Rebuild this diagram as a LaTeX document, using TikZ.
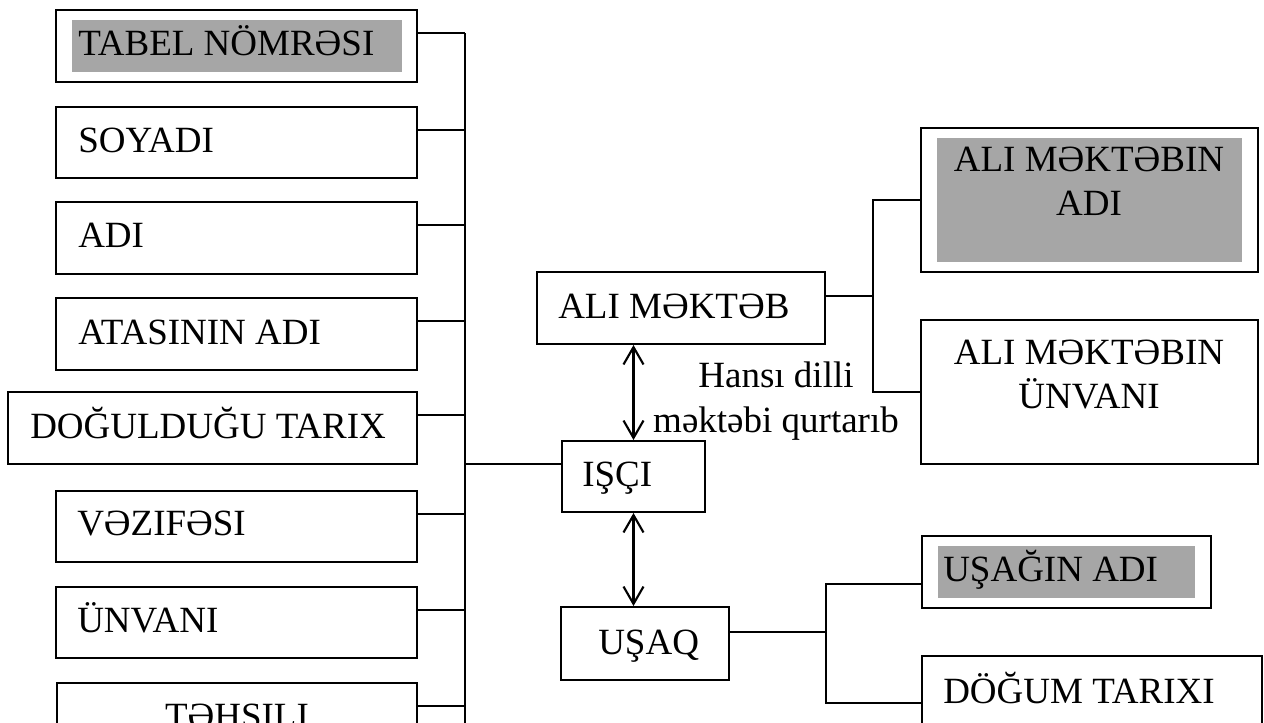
\documentclass[tikz,border=0pt]{standalone}
\usepackage{fontspec}
\setmainfont{Liberation Serif}
\usetikzlibrary{arrows.meta,fit}
\definecolor{keyshade}{RGB}{166,166,166}
\begin{document}
\begin{tikzpicture}[x=0.75pt,y=-0.75pt,
  box/.style={draw, line width=1.5pt, inner sep=0pt, rectangle},
  link/.style={line width=1.4pt},
  lbl/.style={font=\fontsize{27.75pt}{32.5pt}\selectfont, inner sep=0pt, anchor=base west},
  clbl/.style={font=\fontsize{27.75pt}{32.5pt}\selectfont, inner sep=0pt, anchor=base, align=center},
  dbl/.style={line width=1.6pt, {Straight Barb[length=13pt,width=15pt]}-{Straight Barb[length=13pt,width=15pt]}}]
\useasboundingbox (0,0) rectangle (1264,722);
\clip (0,0) rectangle (1264,722);
\fill[white] (0,0) rectangle (1264,722);

% attribute boxes of the employee
\fill[keyshade] (72,20) rectangle (402,72);
\node[box, fit={(56,10) (417,82)}] (tabel) {};
\node[box, fit={(56,107) (417,178)}] (soyadi) {};
\node[box, fit={(56,202) (417,274)}] (adi) {};
\node[box, fit={(56,298) (417,370)}] (atasi) {};
\node[box, fit={(8,392) (417,464)}] (dogul) {};
\node[box, fit={(56,491) (417,562)}] (vezife) {};
\node[box, fit={(56,587) (417,658)}] (unvan) {};
\node[box, fit={(57,683) (417,755)}] (tehsil) {};

\node[lbl] (t-tabel) at (78,55) {TABEL NÖMRƏSI};
\node[lbl] (t-soyadi) at (78,152) {SOYADI};
\node[lbl] (t-adi) at (78,247) {ADI};
\node[lbl] (t-atasi) at (78,344) {ATASININ ADI};
\node[lbl] (t-dogul) at (30,438) {DOĞULDUĞU TARIX};
\node[lbl] (t-vezife) at (77,535) {VƏZIFƏSI};
\node[lbl] (t-unvan) at (77,632) {ÜNVANI};
\node[clbl] (t-tehsil) at (237,728) {TƏHSILI};

% vertical bus collecting the attributes
\coordinate (bus) at (465,33);
\coordinate (busend) at (465,740);
\draw[link] (bus) -- (busend);
\foreach \n in {tabel,soyadi,adi,atasi,dogul,vezife,unvan,tehsil}{
  \coordinate (c-\n) at ([yshift=-18pt]\n.north east);
  \draw[link] (c-\n) -- (c-\n -| bus);
}

% central entities
\node[box, fit={(562,441) (705,512)}] (isci) {};
\node[lbl] (t-isci) at (582,486) {IŞÇI};
\node[box, fit={(537,272) (825,344)}] (alimek) {};
\node[lbl] (t-alimek) at (558,318) {ALI MƏKTƏB};
\node[box, fit={(561,607) (729,680)}] (usaq) {};
\node[lbl] (t-usaq) at (598,654) {UŞAQ};

\coordinate (bj) at (465,464);
\draw[link] (bj) -- (bj -| isci.west);

\draw[dbl] (isci.north |- alimek.south) -- (isci.north);
\draw[dbl] (isci.south) -- (isci.south |- usaq.north);
% two-line label, placed by the baseline of its last line
\node[clbl, font=\fontsize{27.75pt}{33.75pt}\selectfont] (rel) at (776,432) {Hansı dilli\\məktəbi qurtarıb};

% university attributes
\fill[keyshade] (937,138) rectangle (1242,262);
\node[box, fit={(921,128) (1258,272)}] (aliad) {};
\node[clbl] (t-aliad) at (1089,215) {ALI MƏKTƏBIN\\ADI};
\node[box, fit={(921,320) (1258,464)}] (aliun) {};
\node[clbl] (t-aliun) at (1089,408) {ALI MƏKTƏBIN\\ÜNVANI};

\coordinate (j1) at (873,296);
\draw[link] (alimek.east |- j1) -- (j1);
\draw[link] (aliad.west) -- (aliad.west -| j1) -- (aliun.west -| j1) -- (aliun.west);

% child attributes
\fill[keyshade] (938,546) rectangle (1195,598);
\node[box, fit={(922,536) (1211,608)}] (usad) {};
\node[lbl] (t-usad) at (943,581) {UŞAĞIN ADI};
\node[box, fit={(922,656) (1262,760)}] (dogum) {};
\node[lbl] (t-dogum) at (943,703) {DÖĞUM TARIXI};

\coordinate (j2) at (826,632);
\coordinate (k1) at (826,584);
\coordinate (k2) at (826,703);
\draw[link] (usaq.east |- j2) -- (j2);
\draw[link] (usad.west |- k1) -- (k1) -- (k2) -- (dogum.west |- k2);
\end{tikzpicture}
\end{document}
